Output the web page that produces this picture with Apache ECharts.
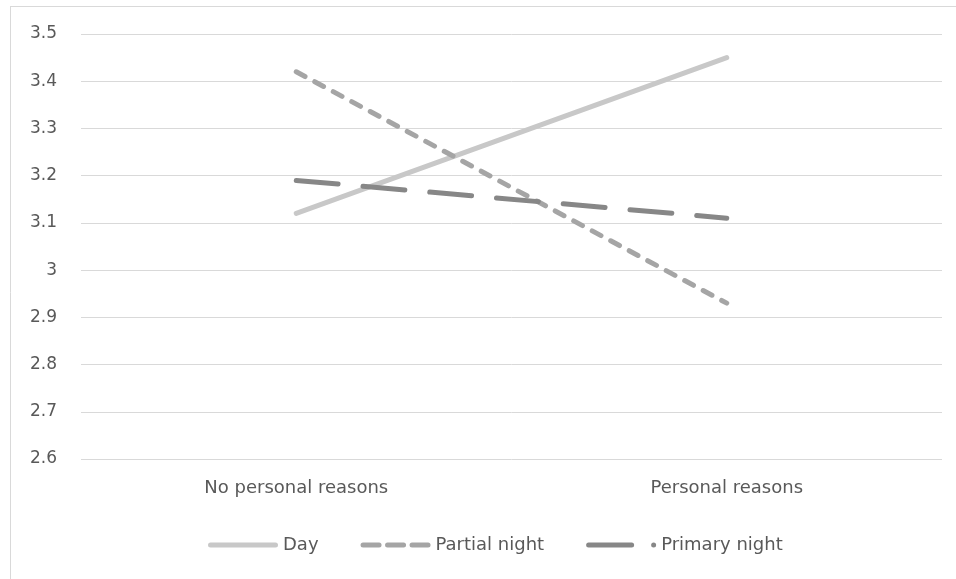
<!DOCTYPE html>
<html>
<head>
<meta charset="utf-8">
<script src="https://cdn.jsdelivr.net/npm/echarts@6/dist/echarts.min.js"></script>
<style>
html,body{margin:0;padding:0;background:#fff;}
#chart{width:956px;height:579px;}
</style>
</head>
<body>
<div id="chart"></div>
<script>
var categories = ["No personal reasons", "Personal reasons"];
var seriesNames = ["Day", "Partial night", "Primary night"];
var dayValues = [3.12, 3.45];
var partialNightValues = [3.42, 2.93];
var primaryNightValues = [3.19, 3.11];
var yMin = 2.6, yMax = 3.5, yStep = 0.1;

var chart = echarts.init(document.getElementById('chart'), null, {renderer: 'canvas'});
var font = "'DejaVu Sans', 'Open Sans', sans-serif";

function rr(x0, x1) { // rounded bar path segment from x0 to x1, height 5
  return 'M' + (x0 + 2.5) + ',0 H' + (x1 - 2.5) + ' A2.5,2.5 0 0 1 ' + (x1 - 2.5) + ',5 H' + (x0 + 2.5) + ' A2.5,2.5 0 0 1 ' + (x0 + 2.5) + ',0 Z ';
}
var iconDay = 'path://' + rr(0, 70);
var iconPartial = 'path://' + rr(0, 21) + rr(24.5, 45.5) + rr(49, 70);
var iconPrimary = 'path://' + rr(0, 48) + 'M65,2.5 A2.5,2.5 0 1 1 70,2.5 A2.5,2.5 0 1 1 65,2.5 Z';

var option = {
  animation: false,
  backgroundColor: '#ffffff',
  grid: {left: 81, right: 14, top: 34, bottom: 120, containLabel: false},
  xAxis: {
    type: 'category',
    data: categories,
    boundaryGap: true,
    axisLine: {show: false},
    axisTick: {show: false},
    axisLabel: {color: '#595959', fontSize: 18, fontFamily: font, margin: 20}
  },
  yAxis: {
    type: 'value',
    min: yMin, max: yMax, interval: yStep,
    axisLine: {show: false},
    axisTick: {show: false},
    splitLine: {lineStyle: {color: '#d9d9d9', width: 1}},
    axisLabel: {color: '#595959', fontSize: 17, fontFamily: font, margin: 24,
      formatter: function(v){ return String(Math.round(v*10)/10); }}
  },
  legend: {
    top: 531,
    left: 203,
    itemWidth: 70,
    itemHeight: 5,
    itemGap: 42,
    textStyle: {color: '#595959', fontSize: 18, fontFamily: font},
    data: [
      {name: seriesNames[0], icon: iconDay},
      {name: seriesNames[1], icon: iconPartial},
      {name: seriesNames[2], icon: iconPrimary}
    ]
  },
  series: [
    {name: seriesNames[0], type: 'line', data: dayValues, symbol: 'none',
     lineStyle: {color: '#c8c8c8', width: 5, cap: 'round'}, itemStyle: {color: '#c8c8c8'}},
    {name: seriesNames[1], type: 'line', data: partialNightValues, symbol: 'none',
     lineStyle: {color: '#a5a5a5', width: 5, cap: 'round', type: [10, 11]}, itemStyle: {color: '#a5a5a5'}},
    {name: seriesNames[2], type: 'line', data: primaryNightValues, symbol: 'none',
     lineStyle: {color: '#878787', width: 5, cap: 'round', type: [42, 25]}, itemStyle: {color: '#878787'}}
  ],
  graphic: [
    {type: 'line', shape: {x1: 10, y1: 6.5, x2: 956, y2: 6.5}, style: {stroke: '#d9d9d9', lineWidth: 1}, silent: true},
    {type: 'line', shape: {x1: 10.5, y1: 6, x2: 10.5, y2: 579}, style: {stroke: '#d9d9d9', lineWidth: 1}, silent: true}
  ]
};
chart.setOption(option);
</script>
</body>
</html>
